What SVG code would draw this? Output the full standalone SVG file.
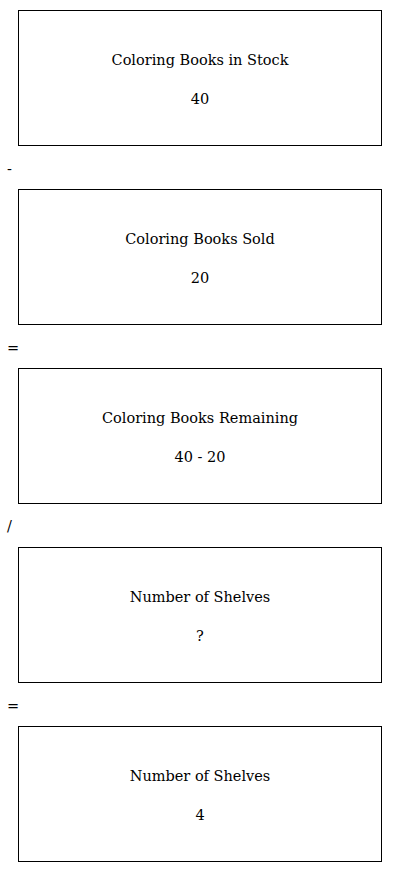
<svg xmlns="http://www.w3.org/2000/svg" width="400" height="872" viewBox="0 0 400 872">
<style>
.box{fill:#fff;stroke:#000;stroke-width:1}
.t{font-family:"DejaVu Serif","Liberation Serif",serif;font-size:14.5px;fill:#000;text-anchor:middle}
.op{font-family:"DejaVu Serif","Liberation Serif",serif;font-size:14.5px;fill:#000}
</style>
<rect width="400" height="872" fill="#fff"/>
<g id="node1"><rect class="box" x="18.5" y="10.5" width="363" height="135"/><text class="t" x="200" y="65">Coloring Books in Stock</text><text class="t" x="200" y="104">40</text></g>
<g id="node2"><rect class="box" x="18.5" y="189.5" width="363" height="135"/><text class="t" x="200" y="244">Coloring Books Sold</text><text class="t" x="200" y="283">20</text></g>
<g id="node3"><rect class="box" x="18.5" y="368.5" width="363" height="135"/><text class="t" x="200" y="423">Coloring Books Remaining</text><text class="t" x="200" y="462">40 - 20</text></g>
<g id="node4"><rect class="box" x="18.5" y="547.5" width="363" height="135"/><text class="t" x="200" y="602">Number of Shelves</text><text class="t" x="200" y="641">?</text></g>
<g id="node5"><rect class="box" x="18.5" y="726.5" width="363" height="135"/><text class="t" x="200" y="781">Number of Shelves</text><text class="t" x="200" y="820">4</text></g>
<g id="connectors">
<text class="op" x="7" y="174">-</text>
<text class="op" x="7" y="353">=</text>
<text class="op" x="7" y="531">/</text>
<text class="op" x="7" y="711">=</text>
</g>
</svg>
